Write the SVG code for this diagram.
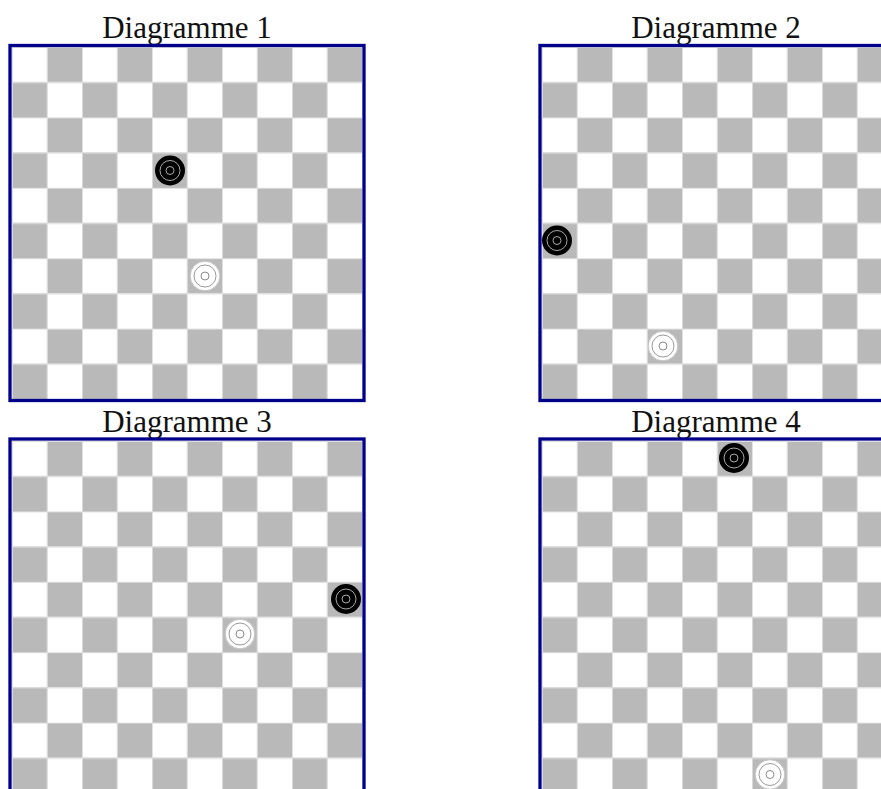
<svg xmlns="http://www.w3.org/2000/svg" xmlns:xlink="http://www.w3.org/1999/xlink" width="881" height="789" viewBox="0 0 881 789">
<style>
.title{font-family:"Liberation Serif","Times New Roman",serif;font-size:31px;fill:#111;text-anchor:middle}
.frame{fill:none;stroke:#00008b;stroke-width:3.3}
.grid{fill:none;stroke:#dedede;stroke-width:1.2}
</style>
<defs>
<pattern id="checker" patternUnits="userSpaceOnUse" x="0" y="0" width="70" height="70.4">
<rect x="0" y="0" width="70" height="70.4" fill="#ffffff"/>
<rect x="35" y="0" width="35" height="35.2" fill="#b9b9b9"/>
<rect x="0" y="35.2" width="35" height="35.2" fill="#b9b9b9"/>
<path class="grid" d="M0.3 0V70.4M35.3 0V70.4M0 0.3H70M0 35.5H70"/>
</pattern>
<g id="blackPiece">
<circle r="15" fill="#000"/>
<circle r="10" fill="none" stroke="#a8a8a8" stroke-width="1"/>
<circle r="4" fill="none" stroke="#a8a8a8" stroke-width="1"/>
</g>
<g id="whitePiece">
<circle r="14.8" fill="#fff" stroke="#c4c4c4" stroke-width="1"/>
<circle r="11" fill="none" stroke="#9a9a9a" stroke-width="1"/>
<circle r="4" fill="none" stroke="#8a8a8a" stroke-width="1"/>
</g>
</defs>

<g id="diagramme1">
<text class="title" x="187" y="38">Diagramme 1</text>
<g transform="translate(12,47)"><rect x="0" y="0" width="350" height="352" fill="url(#checker)"/></g>
<rect class="frame" x="10" y="45.5" width="354" height="355"/>
</g>
<g id="diagramme2">
<text class="title" x="716" y="38">Diagramme 2</text>
<g transform="translate(542,47)"><rect x="0" y="0" width="350" height="352" fill="url(#checker)"/></g>
<rect class="frame" x="540" y="45.5" width="354" height="355"/>
</g>
<g id="diagramme3">
<text class="title" x="187" y="432">Diagramme 3</text>
<g transform="translate(12,441)"><rect x="0" y="0" width="350" height="352" fill="url(#checker)"/></g>
<rect class="frame" x="10" y="439" width="354" height="355"/>
</g>
<g id="diagramme4">
<text class="title" x="716" y="432">Diagramme 4</text>
<g transform="translate(542,441)"><rect x="0" y="0" width="350" height="352" fill="url(#checker)"/></g>
<rect class="frame" x="540" y="439" width="354" height="355"/>
</g>

<g id="d1-black"><use xlink:href="#blackPiece" x="170" y="170.5"/></g>
<g id="d1-white"><use xlink:href="#whitePiece" x="205" y="276"/></g>
<g id="d2-black"><use xlink:href="#blackPiece" x="557" y="240.5"/></g>
<g id="d2-white"><use xlink:href="#whitePiece" x="663" y="346"/></g>
<g id="d3-black"><use xlink:href="#blackPiece" x="346" y="599"/></g>
<g id="d3-white"><use xlink:href="#whitePiece" x="240" y="634"/></g>
<g id="d4-black"><use xlink:href="#blackPiece" x="734" y="458"/></g>
<g id="d4-white"><use xlink:href="#whitePiece" x="770" y="774.5"/></g>
</svg>
